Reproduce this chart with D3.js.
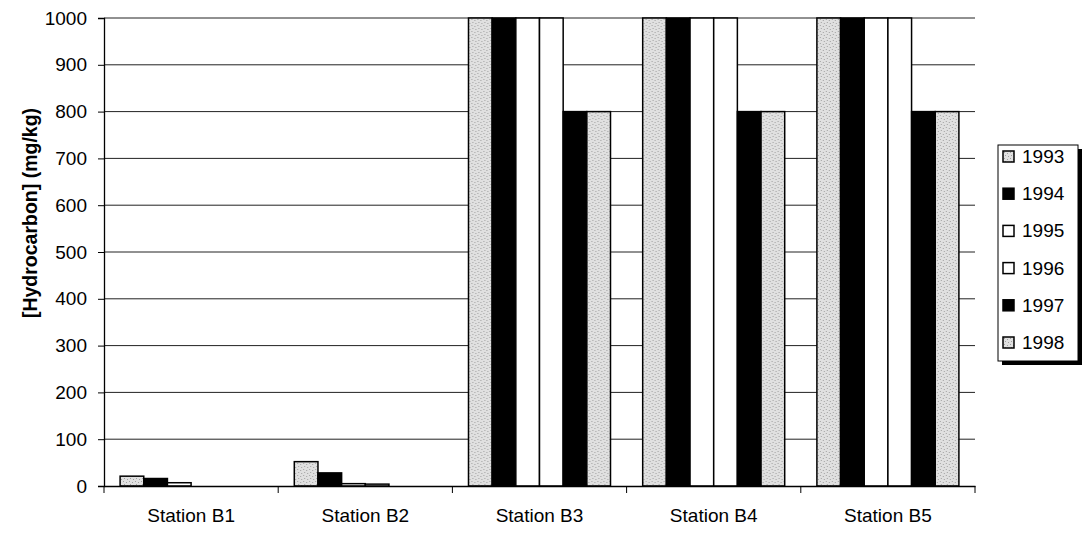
<!DOCTYPE html>
<html>
<head>
<meta charset="utf-8">
<script src="https://cdn.jsdelivr.net/npm/d3@7"></script>
<style>
  body { margin: 0; background: #fff; }
  text { font-family: Arial, "Liberation Sans", sans-serif; fill: #000; }
</style>
</head>
<body>
<div class="chart"></div>
<script>
var svgWidth = 1083;
var svgHeight = 533;

var margin = { top: 18, right: 108, bottom: 47, left: 104 };
var width = svgWidth - margin.left - margin.right;
var height = svgHeight - margin.top - margin.bottom;

// data
var stations = ["Station B1", "Station B2", "Station B3", "Station B4", "Station B5"];
var years = ["1993", "1994", "1995", "1996", "1997", "1998"];
var v1993 = [21, 52, 1000, 1000, 1000];
var v1994 = [16, 28, 1000, 1000, 1000];
var v1995 = [7, 5, 1000, 1000, 1000];
var v1996 = [0, 4, 1000, 1000, 1000];
var v1997 = [0, 0, 800, 800, 800];
var v1998 = [0, 0, 800, 800, 800];
var yTicks = [0, 100, 200, 300, 400, 500, 600, 700, 800, 900, 1000];

var series = [v1993, v1994, v1995, v1996, v1997, v1998];
var fills = ["url(#speckle)", "#000", "#fff", "#fff", "#000", "url(#speckle)"];

var svg = d3.select(".chart")
  .append("svg")
  .attr("width", svgWidth)
  .attr("height", svgHeight);

// grey stippled fill like the scanned print
var defs = svg.append("defs");
var pat = defs.append("pattern")
  .attr("id", "speckle")
  .attr("patternUnits", "userSpaceOnUse")
  .attr("width", 6).attr("height", 6);
pat.append("rect").attr("width", 6).attr("height", 6).attr("fill", "#e0e0e0");
[[1, 1], [4, 2], [2, 4], [5, 5]].forEach(function(p) {
  pat.append("rect").attr("x", p[0]).attr("y", p[1]).attr("width", 1).attr("height", 1).attr("fill", "#a0a0a0");
});

var chart = svg.append("g")
  .attr("transform", "translate(" + margin.left + "," + margin.top + ")");

var x0 = d3.scaleBand().domain(stations).range([0, width]).paddingInner(0).paddingOuter(0);
var x1 = d3.scaleBand().domain(years).range([0, x0.bandwidth()]).paddingInner(0).paddingOuter(0.68);
var y = d3.scaleLinear().domain([0, 1000]).range([height, 0]);

// gridlines
chart.append("g")
  .selectAll("line")
  .data(yTicks.filter(function(d) { return d > 0; }))
  .enter().append("line")
    .attr("x1", 0)
    .attr("x2", width)
    .attr("y1", function(d) { return y(d); })
    .attr("y2", function(d) { return y(d); })
    .attr("stroke", "#222")
    .attr("stroke-width", 1);

// bars
var groups = chart.selectAll(".grp")
  .data(stations)
  .enter().append("g")
    .attr("class", "grp")
    .attr("transform", function(d) { return "translate(" + x0(d) + ",0)"; });

groups.selectAll("rect")
  .data(function(d, i) {
    return years.map(function(yr, j) { return { year: yr, value: series[j][i], k: j }; });
  })
  .enter().append("rect")
    .attr("x", function(d) { return x1(d.year); })
    .attr("width", x1.bandwidth())
    .attr("y", function(d) { return y(d.value); })
    .attr("height", function(d) { return height - y(d.value); })
    .attr("fill", function(d) { return fills[d.k]; })
    .attr("stroke", "#000")
    .attr("stroke-width", 1.5);

// axes
var leftAxis = d3.axisLeft(y).tickValues(yTicks).tickSize(6).tickPadding(11).tickFormat(d3.format("d"));
var yAxisG = chart.append("g").call(leftAxis);
yAxisG.select(".domain").attr("stroke", "#000").attr("stroke-width", 1.3);
yAxisG.selectAll("text").style("font-size", "19px");

var bottomAxis = d3.axisBottom(x0).tickSize(0).tickPadding(23);
var xAxisG = chart.append("g")
  .attr("transform", "translate(0," + height + ")")
  .call(bottomAxis);
xAxisG.select(".domain").attr("stroke", "#000").attr("stroke-width", 1.3);
xAxisG.selectAll("text").style("font-size", "19px");
// tick marks on group boundaries
xAxisG.selectAll(".bound")
  .data(d3.range(stations.length + 1))
  .enter().append("line")
    .attr("class", "bound")
    .attr("x1", function(i) { return i * x0.bandwidth(); })
    .attr("x2", function(i) { return i * x0.bandwidth(); })
    .attr("y1", 0)
    .attr("y2", 7)
    .attr("stroke", "#000");

chart.append("text")
  .attr("transform", "rotate(-90)")
  .attr("x", -195)
  .attr("y", -67)
  .attr("text-anchor", "middle")
  .style("font-size", "19.5px")
  .style("font-weight", "bold")
  .text("[Hydrocarbon] (mg/kg)");

// legend
var legend = svg.append("g").attr("transform", "translate(998,145)");
legend.append("rect").attr("x", 4).attr("y", 4).attr("width", 80).attr("height", 216).attr("fill", "#000");
legend.append("rect").attr("width", 80).attr("height", 216).attr("fill", "#fff").attr("stroke", "#000");
var items = legend.selectAll(".item")
  .data(years)
  .enter().append("g")
    .attr("class", "item")
    .attr("transform", function(d, i) { return "translate(5," + (18 + i * 37.2) + ")"; });
items.append("rect")
  .attr("x", 0).attr("y", -12)
  .attr("width", 11).attr("height", 11)
  .attr("fill", function(d, i) { return fills[i]; })
  .attr("stroke", "#000").attr("stroke-width", 1.5);
items.append("text")
  .attr("x", 19).attr("y", 0)
  .style("font-size", "19px")
  .text(function(d) { return d; });
</script>
</body>
</html>
